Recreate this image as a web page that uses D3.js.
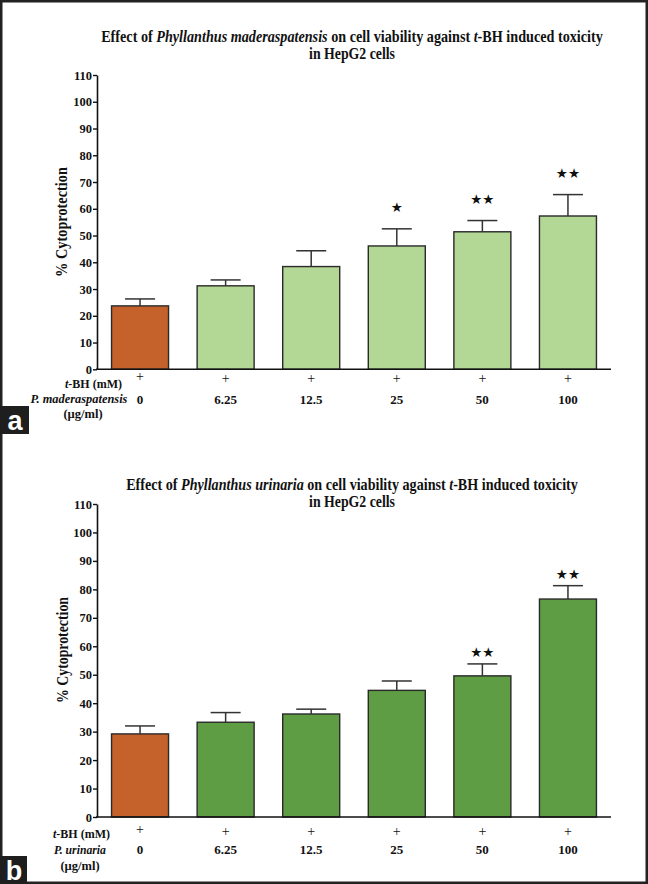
<!DOCTYPE html>
<html>
<head>
<meta charset="utf-8">
<script src="https://cdn.jsdelivr.net/npm/d3@7"></script>
<style>
  html, body { margin: 0; padding: 0; background: #fff; }
  svg { display: block; }
  text { font-family: "Liberation Serif", "Times New Roman", serif; font-weight: bold; fill: #111; }
</style>
</head>
<body>
<svg id="chart" width="648" height="884"></svg>
<script>
// ---------------- data ----------------
const categories = ["0", "6.25", "12.5", "25", "50", "100"];
const tbhRow = ["+", "+", "+", "+", "+", "+"];
const yTicks = [0, 10, 20, 30, 40, 50, 60, 70, 80, 90, 100, 110];

// Panel a: Phyllanthus maderaspatensis
const valuesA = [23.7, 31.2, 38.4, 46.1, 51.4, 57.3];
const semA    = [2.6, 2.2, 5.9, 6.4, 4.2, 8.0];
const starsA  = ["", "", "", "\u2605", "\u2605\u2605", "\u2605\u2605"];

// Panel b: Phyllanthus urinaria
const valuesB = [29.2, 33.3, 36.2, 44.5, 49.6, 76.6];
const semB    = [2.8, 3.4, 1.7, 3.3, 4.2, 4.7];
const starsB  = ["", "", "", "", "\u2605\u2605", "\u2605\u2605"];

// ---------------- drawing ----------------
const svg = d3.select("#chart");

// outer frame
svg.append("rect").attr("x", 1.25).attr("y", 1.25).attr("width", 645.5).attr("height", 881.5)
  .attr("fill", "none").attr("stroke", "#222").attr("stroke-width", 2.5);

function fitText(sel, target) {
  const w = sel.node().getComputedTextLength();
  return target / w;
}

function drawPanel(cfg) {
  const g = svg.append("g");
  const x = d3.scaleBand().domain(categories).range([97, 611]).paddingInner(0.334).paddingOuter(0.17);
  const y = d3.scaleLinear().domain([0, 110]).range([cfg.y0, cfg.y110]);

  // title
  const t1g = g.append("g");
  const t1 = t1g.append("text").attr("text-anchor", "middle").style("font-size", "16px");
  t1.append("tspan").text("Effect of ");
  t1.append("tspan").style("font-style", "italic").text(cfg.species);
  t1.append("tspan").text(" on cell viability against ");
  t1.append("tspan").style("font-style", "italic").text("t");
  t1.append("tspan").text("-BH induced toxicity");
  const k1 = fitText(t1, cfg.titleW);
  t1g.attr("transform", `translate(352,${cfg.titleY}) scale(${k1},1)`);

  const t2g = g.append("g");
  const t2 = t2g.append("text").attr("text-anchor", "middle").style("font-size", "16px").text("in HepG2 cells");
  const k2 = fitText(t2, 86);
  t2g.attr("transform", `translate(352,${cfg.titleY + 16.5}) scale(${k2},1)`);

  // y axis
  const ya = g.append("g").attr("transform", "translate(97,0)")
    .call(d3.axisLeft(y).tickValues(yTicks).tickSize(4).tickSizeOuter(0).tickPadding(1));
  ya.select(".domain").attr("stroke", "#111").attr("stroke-width", 1.6);
  ya.selectAll(".tick line").attr("stroke", "#111").attr("stroke-width", 1.4);
  ya.selectAll(".tick text").style("font-family", "'Liberation Serif', 'Times New Roman', serif")
    .style("font-weight", "bold").style("font-size", "12.5px").attr("fill", "#111");

  // y label
  const ylg = g.append("g");
  const yl = ylg.append("text").attr("text-anchor", "middle").style("font-size", "16px").text("%  Cytoprotection");
  const k3 = fitText(yl, cfg.ylabW);
  ylg.attr("transform", `translate(${cfg.ylabX},${cfg.ylabY}) rotate(-90) scale(${k3},1)`);

  // bars
  g.selectAll("rect.bar").data(cfg.values).join("rect").attr("class", "bar")
    .attr("x", (d, i) => x(categories[i]))
    .attr("y", d => y(d))
    .attr("width", x.bandwidth())
    .attr("height", d => y(0) - y(d))
    .attr("fill", (d, i) => i === 0 ? "#C5622B" : cfg.color)
    .attr("stroke", "#2a2a2a").attr("stroke-width", 1.4);

  // error bars
  const cx = i => x(categories[i]) + x.bandwidth() / 2;
  g.selectAll("line.err").data(cfg.values).join("line").attr("class", "err")
    .attr("x1", (d, i) => cx(i)).attr("x2", (d, i) => cx(i))
    .attr("y1", d => y(d)).attr("y2", (d, i) => y(d + cfg.sem[i]))
    .attr("stroke", "#333").attr("stroke-width", 1.5);
  g.selectAll("line.cap").data(cfg.values).join("line").attr("class", "cap")
    .attr("x1", (d, i) => cx(i) - 15).attr("x2", (d, i) => cx(i) + 15)
    .attr("y1", (d, i) => y(d + cfg.sem[i])).attr("y2", (d, i) => y(d + cfg.sem[i]))
    .attr("stroke", "#333").attr("stroke-width", 1.5);

  // significance stars
  g.selectAll("text.star").data(cfg.stars).join("text").attr("class", "star")
    .attr("x", (d, i) => cx(i))
    .attr("y", (d, i) => y(cfg.values[i] + cfg.sem[i]) - cfg.starGap)
    .attr("text-anchor", "middle").attr("dominant-baseline", "central")
    .style("font-family", "'DejaVu Sans', sans-serif").style("font-weight", "normal")
    .style("font-size", "13.5px").attr("fill", "#000")
    .text(d => d);

  // x baseline
  g.append("line").attr("x1", 96).attr("x2", 611).attr("y1", y(0)).attr("y2", y(0))
    .attr("stroke", "#111").attr("stroke-width", 1.6);

  // row labels
  g.selectAll("text.plus").data(tbhRow).join("text").attr("class", "plus")
    .attr("x", (d, i) => cx(i)).attr("y", (d, i) => cfg.plusY - (i === 0 ? 2 : 0))
    .attr("text-anchor", "middle").style("font-size", "14px").style("font-weight", "normal")
    .attr("fill", "#111").text(d => d);
  g.selectAll("text.dose").data(categories).join("text").attr("class", "dose")
    .attr("x", (d, i) => cx(i)).attr("y", cfg.doseY)
    .attr("text-anchor", "middle").style("font-size", "13px").text(d => d);

  const tb = g.append("text").attr("x", cfg.tbhEnd).attr("y", cfg.tbhY).attr("text-anchor", "end").style("font-size", "12px");
  tb.append("tspan").style("font-style", "italic").text("t");
  tb.append("tspan").text("-BH (mM)");

  const spg = g.append("g");
  const sp = spg.append("text").attr("text-anchor", "middle").style("font-size", "12.5px").style("font-style", "italic").text(cfg.abbr);
  const k4 = fitText(sp, cfg.abbrW);
  spg.attr("transform", `translate(${cfg.abbrX},${cfg.abbrY}) scale(${k4},1)`);

  g.append("text").attr("x", cfg.unitX).attr("y", cfg.unitY).attr("text-anchor", "middle")
    .style("font-size", "12.5px").text("(\u00b5g/ml)");

  // panel letter
  g.append("rect").attr("x", 0).attr("y", cfg.boxY).attr("width", cfg.boxW).attr("height", 28).attr("fill", "#1e1e1e");
  g.append("text").attr("x", cfg.boxW / 2 + 0.5).attr("y", cfg.boxY + 23.5).attr("text-anchor", "middle")
    .style("font-family", "'Liberation Sans', Arial, sans-serif").style("font-size", "27px")
    .attr("fill", "#fff").style("fill", "#fff").text(cfg.letter);
}

drawPanel({
  species: "Phyllanthus maderaspatensis", abbr: "P. maderaspatensis",
  values: valuesA, sem: semA, stars: starsA, color: "#B3D795",
  y0: 369.3, y110: 75, titleY: 42, titleW: 502,
  ylabX: 67, ylabY: 222, ylabW: 110, starGap: 22,
  plusY: 383, doseY: 404, abbrY: 402.5, tbhY: 388, tbhEnd: 122,
  abbrX: 79, abbrW: 97, unitX: 83, unitY: 417.5,
  letter: "a", boxY: 406, boxW: 29
});

drawPanel({
  species: "Phyllanthus urinaria", abbr: "P. urinaria",
  values: valuesB, sem: semB, stars: starsB, color: "#5E9D43",
  y0: 817, y110: 504, titleY: 490, titleW: 452,
  ylabX: 68, ylabY: 650, ylabW: 106, starGap: 12,
  plusY: 836, doseY: 854, abbrY: 853.5, tbhY: 838, tbhEnd: 110,
  abbrX: 80, abbrW: 52, unitX: 80, unitY: 870,
  letter: "b", boxY: 856, boxW: 27
});
</script>
</body>
</html>
